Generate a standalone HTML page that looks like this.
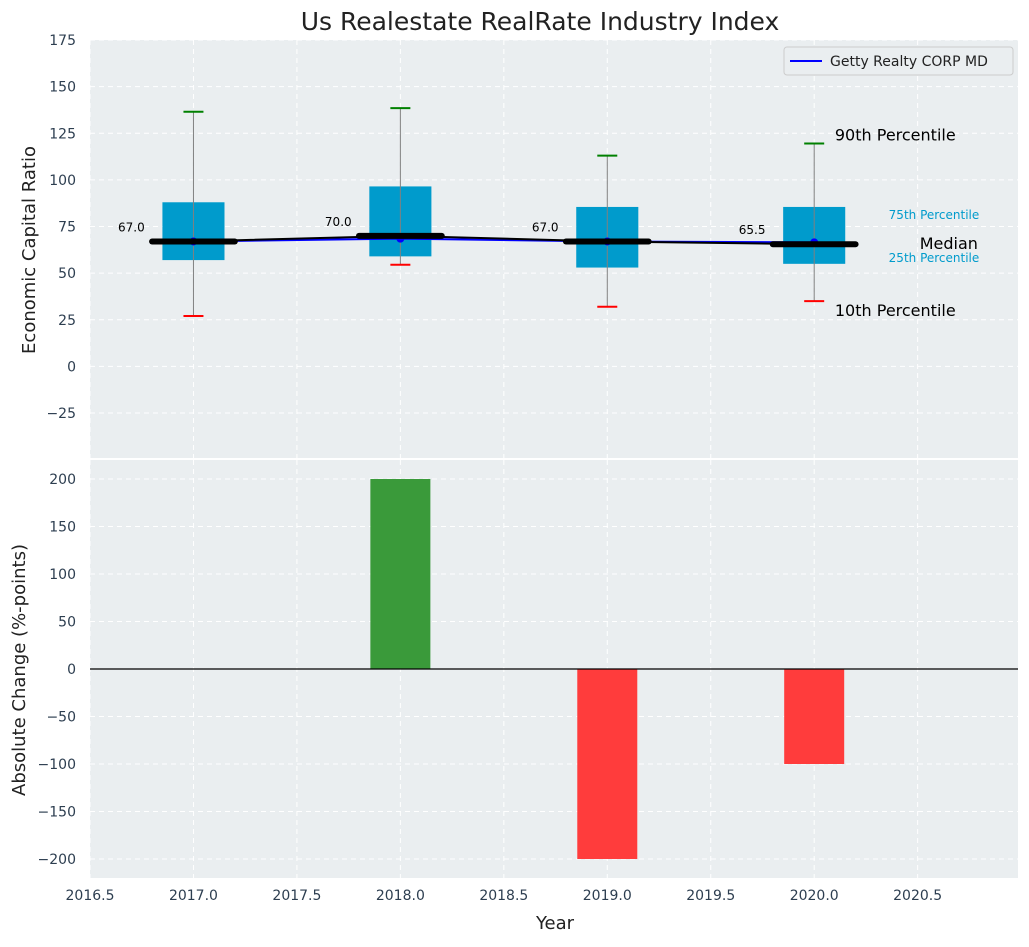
<!DOCTYPE html>
<html><head><meta charset="utf-8"><style>
body{margin:0;background:#fff;}
svg text{font-family:"DejaVu Sans","Liberation Sans",sans-serif;}
</style></head><body>
<svg id="c" width="1029" height="942" xmlns="http://www.w3.org/2000/svg"></svg>
<script>
const years=[2017,2018,2019,2020];
const q1=[57,59,53,55];
const q3=[88,96.5,85.5,85.5];
const medians=[67,70,67,65.5];
const p10=[27,54.5,32,35];
const p90=[136.5,138.5,113,119.5];
const getty=[67,68.5,67,66.5];
const changes=[0,200,-200,-100];
const yTicksTop=[-25,0,25,50,75,100,125,150,175];
const yTicksBot=[-200,-150,-100,-50,0,50,100,150,200];
const xTicks=[2016.5,2017,2017.5,2018,2018.5,2019,2019.5,2020,2020.5];

const NS='http://www.w3.org/2000/svg';
const svg=document.getElementById('c');
const L=90,R=1018,T1=40,B1=458,T2=460,B2=878;
const X0=2016.5,X1=2020.985;
const x=v=>L+(v-X0)/(X1-X0)*(R-L);
const yt=v=>T1+(175-v)/(175+49.1)*(B1-T1);
const yb=v=>T2+(220-v)/440*(B2-T2);
function el(tag,a,txt){const e=document.createElementNS(NS,tag);for(const k in a)e.setAttribute(k,a[k]);if(txt!==undefined)e.textContent=txt;svg.appendChild(e);return e;}

let e=el('rect',{x:L,y:T1,width:R-L,height:B1-T1,fill:'#eaeef0'});

e=el('rect',{x:L,y:T2,width:R-L,height:B2-T2,fill:'#eaeef0'});

xTicks.forEach(v=>{
  el('line',{x1:x(v),x2:x(v),y1:T1,y2:B1,stroke:'#fff','stroke-dasharray':'5,4','stroke-width':1});
  el('line',{x1:x(v),x2:x(v),y1:T2,y2:B2,stroke:'#fff','stroke-dasharray':'5,4','stroke-width':1});
  e=el('text',{x:x(v),y:900,'font-size':14,fill:'#2d3e50','text-anchor':'middle'},v.toFixed(1));
  
});
yTicksTop.forEach(v=>{
  el('line',{x1:L,x2:R,y1:yt(v),y2:yt(v),stroke:'#fff','stroke-dasharray':'5,4'});
  e=el('text',{x:76,y:yt(v)+5,'font-size':14,fill:'#2d3e50','text-anchor':'end'},v<0?'\u2212'+(-v):v);
  
});
yTicksBot.forEach(v=>{
  el('line',{x1:L,x2:R,y1:yb(v),y2:yb(v),stroke:'#fff','stroke-dasharray':'5,4'});
  e=el('text',{x:76,y:yb(v)+5,'font-size':14,fill:'#2d3e50','text-anchor':'end'},v<0?'\u2212'+(-v):v);
  
});
years.forEach((yr,i)=>{
  const w=x(yr+0.15)-x(yr-0.15);
  e=el('rect',{x:x(yr-0.15),y:yt(q3[i]),width:w,height:yt(q1[i])-yt(q3[i]),fill:'#009bcc'});
  
  e=el('line',{x1:x(yr),x2:x(yr),y1:yt(p90[i]),y2:yt(p10[i]),stroke:'#808080','stroke-width':1});
  
  e=el('line',{x1:x(yr)-10,x2:x(yr)+10,y1:yt(p90[i]),y2:yt(p90[i]),stroke:'green','stroke-width':2});
  
  e=el('line',{x1:x(yr)-10,x2:x(yr)+10,y1:yt(p10[i]),y2:yt(p10[i]),stroke:'red','stroke-width':2});
  
});
e=el('polyline',{points:years.map((yr,i)=>x(yr)+','+yt(getty[i])).join(' '),fill:'none',stroke:'blue','stroke-width':2});

years.forEach((yr,i)=>{e=el('circle',{cx:x(yr),cy:yt(getty[i]),r:4,fill:'blue'});
  });
e=el('polyline',{points:years.map((yr,i)=>x(yr)+','+yt(medians[i])).join(' '),fill:'none',stroke:'#000','stroke-width':2});

years.forEach((yr,i)=>{
  e=el('line',{x1:x(yr-0.2),x2:x(yr+0.2),y1:yt(medians[i]),y2:yt(medians[i]),stroke:'#000','stroke-width':6,'stroke-linecap':'round'});
  
  e=el('text',{x:x(yr-0.3),y:yt(medians[i])-10,'font-size':12,fill:'#000','text-anchor':'middle'},medians[i].toFixed(1));
  
});
const ax=x(2020.1);
[['90th Percentile',ax,yt(p90[3])-3,16,'#000','start','annotation-p90'],
 ['10th Percentile',ax,yt(p10[3])+15,16,'#000','start','annotation-p10'],
 ['Median',x(2020.51),yt(medians[3])+5,16,'#000','start','annotation-median'],
 ['75th Percentile',x(2020.36),yt(q3[3])+12,12,'#009bcc','start','annotation-q3'],
 ['25th Percentile',x(2020.36),yt(q1[3])-2,12,'#009bcc','start','annotation-q1']].forEach(a=>{
  e=el('text',{x:a[1],y:a[2],'font-size':a[3],fill:a[4],'text-anchor':a[5]},a[0]);
  
});
e=el('rect',{x:784,y:47,width:229,height:28,rx:3,fill:'#eaeef0',stroke:'#ccc'});

el('line',{x1:790,x2:822,y1:61,y2:61,stroke:'blue','stroke-width':2});
e=el('text',{x:830,y:66,'font-size':14,fill:'#222'},'Getty Realty CORP MD');

years.forEach((yr,i)=>{
  const v=changes[i];if(v===0)return;
  e=el('rect',{x:x(yr-0.145),y:Math.min(yb(v),yb(0)),width:x(yr+0.145)-x(yr-0.145),height:Math.abs(yb(v)-yb(0)),fill:v>0?'#3a9a3a':'#ff3c3c'});
  
});
e=el('line',{x1:L,x2:R,y1:yb(0),y2:yb(0),stroke:'#000','stroke-width':1.2});

e=el('text',{x:540,y:30,'font-size':25,fill:'#222','text-anchor':'middle'},'Us Realestate RealRate Industry Index');

e=el('text',{x:555,y:929,'font-size':18,fill:'#222','text-anchor':'middle'},'Year');

e=el('text',{x:35,y:250,'font-size':18,fill:'#222','text-anchor':'middle',transform:'rotate(-90 35 250)'},'Economic Capital Ratio');

e=el('text',{x:25,y:670,'font-size':18,fill:'#222','text-anchor':'middle',transform:'rotate(-90 25 670)'},'Absolute Change (%-points)');

</script>
</body></html>
